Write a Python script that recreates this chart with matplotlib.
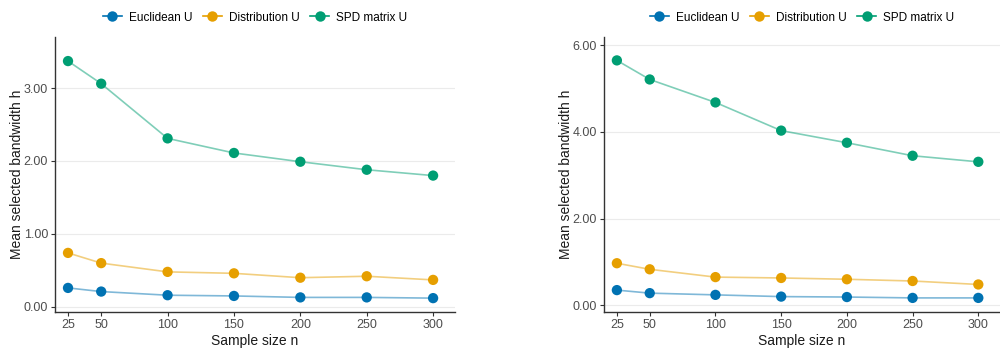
import matplotlib
matplotlib.use("Agg")
import matplotlib.pyplot as plt

plt.rcParams['font.family'] = ['Liberation Sans', 'DejaVu Sans']

sample_sizes = [25, 50, 100, 150, 200, 250, 300]
series_names = ["Euclidean U", "Distribution U", "SPD matrix U"]
colors = ["#0072B2", "#E69F00", "#009E73"]

left_euclid = [0.26, 0.21, 0.16, 0.15, 0.13, 0.13, 0.12]
left_distr = [0.74, 0.60, 0.48, 0.46, 0.40, 0.42, 0.37]
left_spd = [3.37, 3.06, 2.31, 2.11, 1.99, 1.88, 1.80]

right_euclid = [0.35, 0.28, 0.24, 0.20, 0.19, 0.17, 0.17]
right_distr = [0.97, 0.83, 0.65, 0.63, 0.60, 0.56, 0.48]
right_spd = [5.65, 5.21, 4.68, 4.03, 3.75, 3.45, 3.31]

left_yticks = [0, 1, 2, 3]
right_yticks = [0, 2, 4, 6]

fig = plt.figure(figsize=(10, 3.5), dpi=100)
ax1 = fig.add_axes([0.055, 0.1086, 0.40, 0.7857])
ax2 = fig.add_axes([0.604, 0.1086, 0.396, 0.7857])

panels = [
    (ax1, [left_euclid, left_distr, left_spd], left_yticks, (-0.07, 3.70)),
    (ax2, [right_euclid, right_distr, right_spd], right_yticks, (-0.155, 6.19)),
]

for ax, data, yticks, ylim in panels:
    handles = []
    for vals, name, c in zip(data, series_names, colors):
        ax.plot(sample_sizes, vals, color=c, alpha=0.5, lw=1.2, zorder=2)
        ax.scatter(sample_sizes, vals, color=c, s=55, zorder=3, edgecolors='none')
        h, = ax.plot([], [], color=c, marker='o', markersize=7.5,
                     lw=1.2, markeredgewidth=0)
        handles.append(h)
    ax.set_xlim(15.2, 316.5)
    ax.set_ylim(*ylim)
    ax.set_xticks(sample_sizes)
    ax.set_yticks(yticks)
    ax.set_yticklabels([f"{v:.2f}" for v in yticks])
    ax.grid(axis='y', color='#EBEBEB', lw=0.8, zorder=0)
    ax.set_axisbelow(True)
    for s in ['top', 'right']:
        ax.spines[s].set_visible(False)
    for s in ['left', 'bottom']:
        ax.spines[s].set_linewidth(1.0)
        ax.spines[s].set_color('#333333')
    ax.tick_params(axis='both', labelsize=9, colors='#333333',
                   labelcolor='#4D4D4D', length=3, width=0.8, pad=2)
    ax.set_xlabel("Sample size n", fontsize=10, color='#1A1A1A', labelpad=2)
    ax.set_ylabel("Mean selected bandwidth h", fontsize=10, color='#1A1A1A', labelpad=0)
    leg = ax.legend(handles=handles, labels=series_names, loc='lower center',
                    bbox_to_anchor=(0.5, 1.01), ncol=3, frameon=False,
                    fontsize=8.5, handlelength=1.6, handletextpad=0.6,
                    columnspacing=0.9)

fig.savefig("out.png", dpi=100)
